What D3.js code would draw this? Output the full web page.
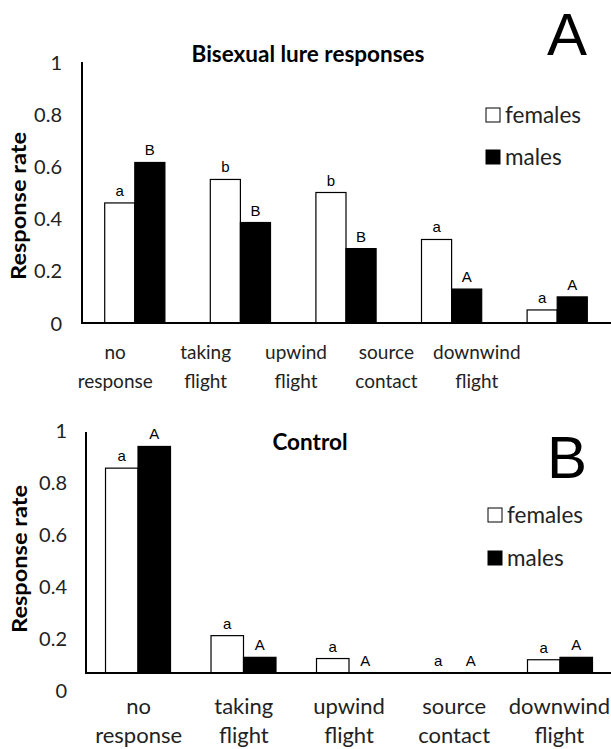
<!DOCTYPE html>
<html>
<head>
<meta charset="utf-8">
<script src="https://cdn.jsdelivr.net/npm/d3@7"></script>
<style>
  html, body { margin: 0; padding: 0; background: #fff; }
  svg { display: block; }
</style>
</head>
<body>
<script>
// ---------------- DATA ----------------
const categories = ["no response", "taking flight", "upwind flight", "source contact", "downwind flight"];
const sexes = ["females", "males"];
const yTicks = [0, 0.2, 0.4, 0.6, 0.8, 1];
const yTickLabels = ["0", "0.2", "0.4", "0.6", "0.8", "1"];

const lureFemales = [0.46, 0.55, 0.50, 0.32, 0.05];
const lureMales   = [0.615, 0.385, 0.285, 0.13, 0.10];
const lureFemaleLetters = ["a", "b", "b", "a", "a"];
const lureMaleLetters   = ["B", "B", "B", "A", "A"];

const controlFemales = [0.85, 0.155, 0.06, 0, 0.055];
const controlMales   = [0.94, 0.065, 0, 0, 0.065];
const controlFemaleLetters = ["a", "a", "a", "a", "a"];
const controlMaleLetters   = ["A", "A", "A", "A", "A"];

// ---------------- DRAW ----------------
const W = 611, H = 749;
const svg = d3.select("body").append("svg").attr("width", W).attr("height", H);
const sansFont = "Lato, 'Open Sans', sans-serif";
const letterFont = "'Liberation Sans', Arial, sans-serif";

function drawPanel(p) {
  const g = svg.append("g");
  const y = d3.scaleLinear().domain([0, 1]).range([p.yBottom, p.yTop]);
  const yLab = d3.scaleLinear().domain([0, 1]).range(p.yLabelRange);
  const x0 = d3.scaleBand().domain(categories).range([p.xLeft, p.xRight])
    .paddingInner(p.padInner).paddingOuter(p.padOuter);
  const x1 = d3.scaleBand().domain(sexes).range([0, x0.bandwidth()]);
  const xLab = d3.scaleBand().domain(categories).range(p.xLabelRange);

  const rows = categories.map((c, i) => ({
    cat: c,
    vals: [
      { sex: "females", v: p.females[i], letter: p.femaleLetters[i] },
      { sex: "males", v: p.males[i], letter: p.maleLetters[i] }
    ]
  }));

  // bars
  const grp = g.selectAll("g.grp").data(rows).join("g")
    .attr("transform", d => `translate(${x0(d.cat)},0)`);
  grp.selectAll("rect").data(d => d.vals.filter(v => v.v > 0)).join("rect")
    .attr("x", d => x1(d.sex))
    .attr("width", x1.bandwidth())
    .attr("y", d => y(d.v))
    .attr("height", d => y(0) - y(d.v))
    .attr("fill", d => d.sex === "females" ? "#fff" : "#000")
    .attr("stroke", "#000")
    .attr("stroke-width", 1.2);
  grp.selectAll("text").data(d => d.vals).join("text")
    .attr("x", d => x1(d.sex) + x1.bandwidth() / 2)
    .attr("y", d => y(d.v) - 7)
    .attr("text-anchor", "middle")
    .attr("font-family", letterFont)
    .attr("font-size", 15)
    .attr("fill", "#000")
    .text(d => d.letter);

  // y axis line
  g.append("line").attr("x1", p.xLeft).attr("x2", p.xLeft)
    .attr("y1", y(1)).attr("y2", y(0) + 1)
    .attr("stroke", "#000").attr("stroke-width", 2);
  // x axis line
  g.append("line").attr("x1", p.xLeft).attr("x2", W)
    .attr("y1", y(0)).attr("y2", y(0))
    .attr("stroke", "#000").attr("stroke-width", 2);

  // y tick labels
  const ya = g.append("g").attr("transform", `translate(${p.xLeft},0)`)
    .call(d3.axisLeft(yLab).tickValues(yTicks)
      .tickFormat((d, i) => yTickLabels[i]).tickSize(0).tickPadding(p.yTickPad));
  ya.select(".domain").remove();
  ya.selectAll("text").attr("font-family", sansFont).attr("font-size", 20)
    .attr("fill", "#222").attr("dy", "0.35em");

  // x category labels
  const xa = g.append("g").attr("transform", `translate(0,${y(0)})`)
    .call(d3.axisBottom(xLab).tickSize(0));
  xa.select(".domain").remove();
  xa.selectAll(".tick text").each(function (d) {
    const t = d3.select(this);
    t.text(null).attr("y", 0).attr("dy", null)
      .attr("font-family", sansFont).attr("font-size", p.catFont).attr("fill", "#222");
    d.split(" ").forEach((w, i) => {
      t.append("tspan").attr("x", 0)
        .attr("y", i === 0 ? p.catLine1 : p.catLine2)
        .text(w);
    });
  });

  // y title
  g.append("text")
    .attr("transform", `translate(${p.yTitleX},${p.yTitleY}) rotate(-90)`)
    .attr("text-anchor", "middle")
    .attr("font-family", sansFont).attr("font-weight", "bold")
    .attr("font-size", 20)
    .attr("textLength", 148).attr("lengthAdjust", "spacingAndGlyphs")
    .attr("fill", "#000")
    .text("Response rate");

  // chart title
  g.append("text").attr("x", p.titleX).attr("y", p.titleY)
    .attr("text-anchor", "middle")
    .attr("font-family", sansFont).attr("font-weight", "bold")
    .attr("font-size", p.titleFont).attr("fill", "#000")
    .text(p.title);

  // panel letter
  g.append("text").attr("x", 567).attr("y", p.letterY)
    .attr("text-anchor", "middle")
    .attr("font-family", letterFont).attr("font-size", 60).attr("fill", "#000")
    .text(p.panel);

  // legend
  const lg = g.selectAll("g.leg").data(sexes).join("g")
    .attr("transform", (d, i) => `translate(${p.legX},${p.legY + i * p.legGap})`);
  lg.append("rect").attr("x", 0).attr("y", -7).attr("width", 14).attr("height", 14)
    .attr("fill", d => d === "females" ? "#fff" : "#000")
    .attr("stroke", "#000").attr("stroke-width", 1);
  lg.append("text").attr("x", 19).attr("y", 0).attr("dy", "0.35em")
    .attr("font-family", sansFont).attr("font-size", 22.5).attr("fill", "#222")
    .text(d => d);
}

drawPanel({
  panel: "A", title: "Bisexual lure responses", titleX: 308, titleY: 62, titleFont: 22.5,
  females: lureFemales, males: lureMales,
  femaleLetters: lureFemaleLetters, maleLetters: lureMaleLetters,
  yTop: 62, yBottom: 323, yLabelRange: [323, 62],
  xLeft: 82, xRight: 610, padInner: 0.43, padOuter: 0.215,
  xLabelRange: [70, 522], catFont: 19, catLine1: 36, catLine2: 65,
  yTickPad: 20, yTitleX: 26, yTitleY: 206,
  letterY: 55, legX: 486, legY: 115, legGap: 42
});

drawPanel({
  panel: "B", title: "Control", titleX: 310, titleY: 450, titleFont: 22.5,
  females: controlFemales, males: controlMales,
  femaleLetters: controlFemaleLetters, maleLetters: controlMaleLetters,
  yTop: 432, yBottom: 673, yLabelRange: [690, 430],
  xLeft: 86, xRight: 612, padInner: 0.384, padOuter: 0.185,
  xLabelRange: [86, 612], catFont: 22, catLine1: 41, catLine2: 70,
  yTickPad: 19, yTitleX: 27, yTitleY: 559,
  letterY: 478, legX: 488, legY: 515, legGap: 43
});
</script>
</body>
</html>
